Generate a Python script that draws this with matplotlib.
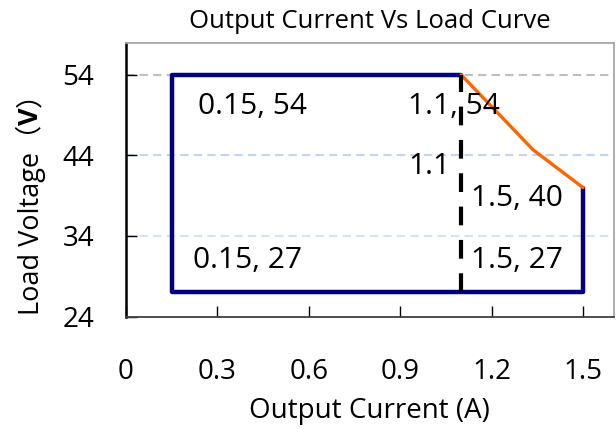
import matplotlib
matplotlib.use("Agg")
import matplotlib.pyplot as plt

# Data
left_x = [1.1, 0.15, 0.15, 1.5, 1.5]
left_y = [54, 54, 27, 27, 40]
curve_x = [1.1, 1.336, 1.5]
curve_y = [54, 44.7, 40]
split_x = [1.1, 1.1]
split_y = [27, 54]
grid_levels = [54, 44, 34]
x_ticks = [0, 0.3, 0.6, 0.9, 1.2, 1.5]
x_labels = ["0", "0.3", "0.6", "0.9", "1.2", "1.5"]
y_ticks = [24, 34, 44, 54]
annotations = [
    ("0.15, 54", 0.237, 50.1),
    ("1.1, 54", 0.925, 50.1),
    ("1.1", 0.925, 42.6),
    ("1.5, 40", 1.131, 38.7),
    ("0.15, 27", 0.221, 30.9),
    ("1.5, 27", 1.131, 30.9),
]
ylabel_parts = ["Load Voltage（", "V", "）"]

FONT = ["Open Sans", "Noto Sans CJK SC", "DejaVu Sans"]
plt.rcParams['font.family'] = FONT

W, H = 616, 429
L, R, T, B = 126, 613.5, 42.7, 316.5
fig = plt.figure(figsize=(W / 100, H / 100), dpi=100)
ax = fig.add_axes([L / W, (H - B) / H, (R - L) / W, (B - T) / H])
ax.set_xlim(0, 1.6)
ax.set_ylim(24, 58)

grid_colors = ["#BFBFBF", "#C5D3EC", "#D9E2F3"]
for lvl, c in zip(grid_levels, grid_colors):
    ax.axhline(lvl, color=c, lw=1.5, ls=(0, (4, 2.5)), zorder=1)

ax.plot(left_x, left_y, color="#000080", lw=3.2, solid_capstyle="round",
        solid_joinstyle="round", zorder=3)
ax.plot(curve_x, curve_y, color="#FF6600", lw=2.4, solid_capstyle="round", zorder=4)

for t, x, y in annotations:
    ax.text(x, y, t, fontsize=21.5, va="center", ha="left", color="black", zorder=5)

ax.plot(split_x, split_y, color="black", lw=3, ls=(0, (4.5, 3.5)), zorder=6)

ax.set_xticks(x_ticks)
ax.set_xticklabels(x_labels)
ax.set_yticks(y_ticks)
ax.tick_params(axis="both", direction="in", length=8, width=1, color="black",
               labelsize=20)
ax.tick_params(axis="x", pad=30)
ax.tick_params(axis="y", pad=23)

for s in ["top", "right"]:
    ax.spines[s].set_color("#A6A6A6")
    ax.spines[s].set_linewidth(1.3)
ax.spines["left"].set_color("black")
ax.spines["left"].set_linewidth(1.8)
ax.spines["bottom"].set_color("#404040")
ax.spines["bottom"].set_linewidth(1.3)

ax.set_title("Output Current Vs Load Curve", fontsize=18.5, pad=10.6)
ax.set_xlabel("Output Current (A)", fontsize=20)
ax.xaxis.set_label_coords(0.5, -(397 - B) / (B - T))

# y label assembled from pieces (full-width brackets, bold V)
fig.canvas.draw()
renderer = fig.canvas.get_renderer()
ypix = 315.0
xc = 31.0
weights = ["normal", "bold", "normal"]
for part, wt in zip(ylabel_parts, weights):
    t = fig.text(xc / W, 1 - ypix / H, part, rotation=90, ha="center",
                 va="bottom", fontsize=19.5, weight=wt, family=FONT)
    bb = t.get_window_extent(renderer=renderer)
    ypix -= bb.height

fig.savefig("out.png", dpi=100)
